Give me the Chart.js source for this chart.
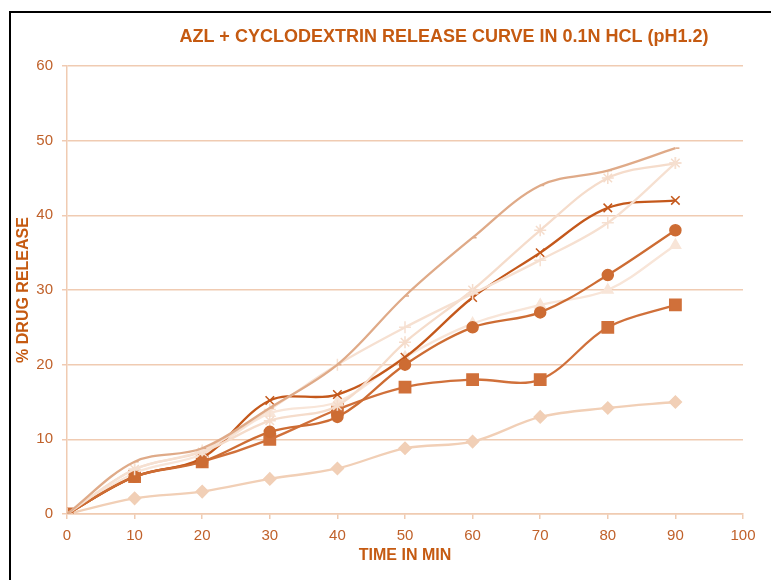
<!DOCTYPE html>
<html>
<head>
<meta charset="utf-8">
<script src="https://cdn.jsdelivr.net/npm/chart.js@4.4.1/dist/chart.umd.min.js"></script>
<style>
  html, body { margin: 0; padding: 0; background: #fff; }
  #wrap { width: 771px; height: 580px; position: relative; }
</style>
</head>
<body>
<div id="wrap"><canvas id="chart" width="771" height="580"></canvas></div>
<script>
const times = [0, 10, 20, 30, 40, 50, 60, 70, 80, 90];
const xTicks = [0, 10, 20, 30, 40, 50, 60, 70, 80, 90, 100];
const yTicks = [0, 10, 20, 30, 40, 50, 60];

// one series per marker style
const diamondSeries = [0, 2.1, 3, 4.7, 6.1, 8.8, 9.7, 13, 14.2, 15];
const squareSeries = [0, 5, 7, 10, 14, 17, 18, 18, 25, 28];
const triangleSeries = [0, 5.5, 8, 13.5, 15, 21, 25.5, 28, 30, 36];
const crossSeries = [0, 5, 7.5, 15.2, 16, 21, 29, 35, 41, 42];
const starSeries = [0, 6, 8.3, 12.5, 14.5, 23, 30, 38, 45, 47];
const circleSeries = [0, 5, 7, 11, 13, 20, 25, 27, 32, 38];
const plusSeries = [0, 6, 8.5, 14, 20, 25, 29.5, 34, 39, 47];
const dashSeries = [0, 7, 8.8, 14.2, 20, 29.2, 37, 44, 46, 49];

const seriesList = [
  { values: diamondSeries, color: "#F1CFB6", marker: "rectRot", size: 6 },
  { values: squareSeries, color: "#D0703A", marker: "rect", size: 8 },
  { values: triangleSeries, color: "#F8E5D8", marker: "triangle", size: 6 },
  { values: crossSeries, color: "#C4581B", marker: "crossRot", size: 6 },
  { values: starSeries, color: "#F5DCCB", marker: "star", size: 6 },
  { values: circleSeries, color: "#CD6C33", marker: "circle", size: 5.5 },
  { values: plusSeries, color: "#F6E0D1", marker: "cross", size: 6 },
  { values: dashSeries, color: "#DFAA88", marker: "dash", size: 4 },
];

const tickColor = "#C0612A";
const gridColor = "#F0CBB2";

const frameAndTitle = {
  id: "frameAndTitle",
  afterDraw(chart) {
    const ctx = chart.ctx;
    ctx.save();
    ctx.strokeStyle = "#000";
    ctx.lineWidth = 2;
    ctx.beginPath();
    ctx.moveTo(10, 600);
    ctx.lineTo(10, 12);
    ctx.lineTo(800, 12);
    ctx.stroke();
    ctx.fillStyle = "#C55A11";
    ctx.font = "bold 18px 'Liberation Sans', Arial, sans-serif";
    ctx.textAlign = "center";
    ctx.textBaseline = "middle";
    ctx.fillText("AZL + CYCLODEXTRIN RELEASE CURVE IN 0.1N HCL (pH1.2)", 444, 37);
    ctx.restore();
  },
};

new Chart(document.getElementById("chart"), {
  type: "line",
  data: {
    datasets: seriesList.map((s, i) => ({
      label: "Series" + (i + 1),
      data: times.map((t, j) => ({ x: t, y: s.values[j] })),
      borderColor: s.color,
      backgroundColor: s.color,
      borderWidth: 2.3,
      pointStyle: s.marker,
      pointRadius: s.size,
      pointBorderColor: s.color,
      pointBackgroundColor: s.color,
      pointBorderWidth: 1.5,
      tension: 0.35,
      fill: false,
      order: -i,
    })),
  },
  options: {
    responsive: false,
    devicePixelRatio: 1,
    animation: false,
    layout: { padding: { top: 66, right: 28, left: 0, bottom: 0 } },
    plugins: {
      legend: { display: false },
      tooltip: { enabled: false },
    },
    scales: {
      x: {
        type: "linear",
        min: 0,
        max: 100,
        afterBuildTicks: (scale) => {
          scale.ticks = xTicks.map((v) => ({ value: v }));
        },
        afterFit: (scale) => {
          scale.height = 66;
        },
        grid: {
          drawOnChartArea: false,
          drawTicks: true,
          tickLength: 5,
          color: gridColor,
          lineWidth: 1.5,
        },
        border: { color: gridColor, width: 1.5 },
        ticks: {
          color: tickColor,
          padding: 8,
          maxRotation: 0,
          font: { family: "'Liberation Sans', Arial", size: 15 },
        },
        title: {
          display: true,
          text: "TIME IN MIN",
          color: "#C55A11",
          padding: { top: 4, bottom: 15 },
          font: { family: "'Liberation Sans', Arial", size: 16, weight: "bold" },
        },
      },
      y: {
        min: 0,
        max: 60,
        afterBuildTicks: (scale) => {
          scale.ticks = yTicks.map((v) => ({ value: v }));
        },
        afterFit: (scale) => {
          scale.width = 67;
        },
        grid: {
          color: gridColor,
          lineWidth: 1.5,
          tickLength: 5,
        },
        border: { color: gridColor, width: 1.5 },
        ticks: {
          color: tickColor,
          padding: 9,
          font: { family: "'Liberation Sans', Arial", size: 15 },
        },
        title: {
          display: true,
          text: "% DRUG RELEASE",
          color: "#C55A11",
          padding: { top: 14, bottom: 0 },
          font: { family: "'Liberation Sans', Arial", size: 16, weight: "bold" },
        },
      },
    },
  },
  plugins: [frameAndTitle],
});
</script>
</body>
</html>
